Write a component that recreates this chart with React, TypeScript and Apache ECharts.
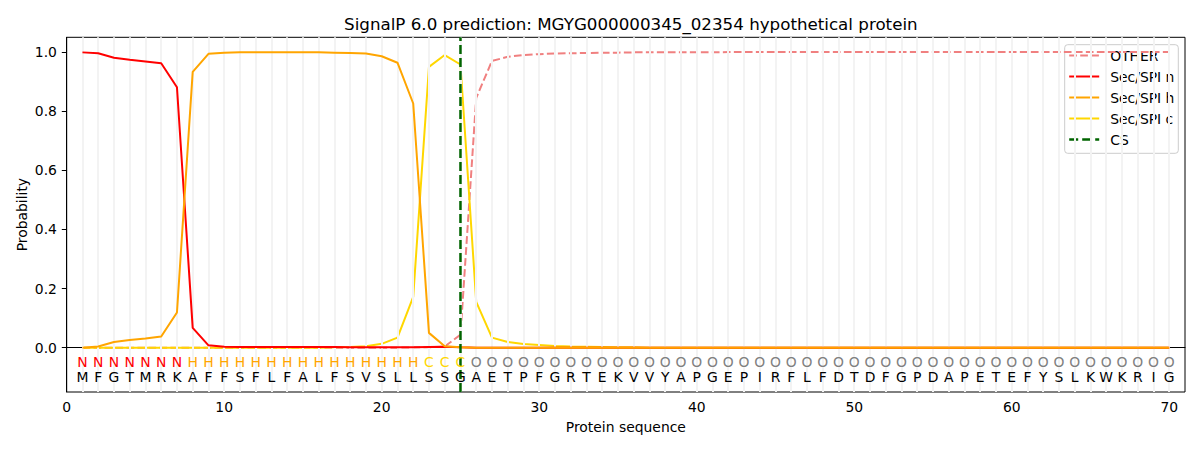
import React, { useEffect, useRef } from "react";
import * as echarts from "echarts";

const sequence = "MFGTMRKAFFSFLFALFSVSLLSSGAETPFGRTEKVVYAPGEPIRFLFDTDFGPDAPETEFYSLKWKRIG".split("");
const regionLabels = "NNNNNNNHHHHHHHHHHHHHHHCCCOOOOOOOOOOOOOOOOOOOOOOOOOOOOOOOOOOOOOOOOOOOOO".split("");
const positions = sequence.map((_, i) => i + 1);

const otherProb = [
  0, 0, 0, 0, 0, 0, 0, 0, 0, 0,
  0, 0, 0, 0, 0, 0, 0, 0, 0, 0,
  0, 0.001, 0.001, 0.004, 0.044, 0.845, 0.970, 0.984, 0.990, 0.993,
  0.995, 0.996, 0.997, 0.998, 0.998, 0.999, 0.999, 0.999, 0.999, 0.999,
  0.999, 1, 1, 1, 1, 1, 1, 1, 1, 1,
  1, 1, 1, 1, 1, 1, 1, 1, 1, 1,
  1, 1, 1, 1, 1, 1, 1, 1, 1, 1,
];
const secN = [
  0.999, 0.996, 0.981, 0.974, 0.968, 0.962, 0.881, 0.067, 0.008, 0.003,
  0.002, 0.002, 0.002, 0.002, 0.002, 0.002, 0.002, 0.001, 0.001, 0.001,
  0.001, 0.001, 0.002, 0.003, 0.001, 0, 0, 0, 0, 0,
  0, 0, 0, 0, 0, 0, 0, 0, 0, 0,
  0, 0, 0, 0, 0, 0, 0, 0, 0, 0,
  0, 0, 0, 0, 0, 0, 0, 0, 0, 0,
  0, 0, 0, 0, 0, 0, 0, 0, 0, 0,
];
const secH = [
  0, 0.004, 0.019, 0.026, 0.031, 0.038, 0.119, 0.933, 0.994, 0.998,
  0.999, 0.999, 0.999, 0.999, 0.999, 0.999, 0.998, 0.997, 0.995, 0.986,
  0.964, 0.826, 0.050, 0.005, 0.001, 0, 0, 0, 0, 0,
  0, 0, 0, 0, 0, 0, 0, 0, 0, 0,
  0, 0, 0, 0, 0, 0, 0, 0, 0, 0,
  0, 0, 0, 0, 0, 0, 0, 0, 0, 0,
  0, 0, 0, 0, 0, 0, 0, 0, 0, 0,
];
const secC = [
  0, 0, 0, 0, 0, 0, 0, 0, 0, 0,
  0, 0, 0, 0, 0, 0, 0.001, 0.002, 0.005, 0.013,
  0.034, 0.172, 0.950, 0.990, 0.958, 0.155, 0.034, 0.019, 0.012, 0.009,
  0.006, 0.004, 0.003, 0.002, 0.001, 0.001, 0, 0, 0, 0,
  0, 0, 0, 0, 0, 0, 0, 0, 0, 0,
  0, 0, 0, 0, 0, 0, 0, 0, 0, 0,
  0, 0, 0, 0, 0, 0, 0, 0, 0, 0,
];
const csPosition = 25;
const xTicks = [0, 10, 20, 30, 40, 50, 60, 70];
const yTicks = [0, 0.2, 0.4, 0.6, 0.8, 1.0];
const legendNames = ["OTHER", "Sec/SPI n", "Sec/SPI h", "Sec/SPI c", "CS"];
const legendColors = ["#f08080", "#ff0000", "#ffa500", "#ffd700", "#006400"];
const legendDashed = [true, false, false, false, true];
const X_MIN = 0;
const X_MAX = 71;
const Y_MIN = -0.15;
const Y_MAX = 1.05;
const REGION_Y = -0.05;
const SEQ_Y = -0.1;

const FONT = "DejaVu Sans";
const regionColor: Record<string, string> = {
  N: "#ff0000",
  H: "#ffa500",
  C: "#ffd700",
  O: "#808080",
};

const GRID_LEFT = 66.7;
const GRID_RIGHT = 15;
const GRID_TOP = 37.3;
const GRID_BOTTOM = 58;

function pairs(vals: number[]) {
  return positions.map((p, i) => [p, vals[i]]);
}

export default function App() {
  const ref = useRef<HTMLDivElement>(null);
  useEffect(() => {
    if (!ref.current) return;
    const chart = echarts.init(ref.current, undefined, { renderer: "svg" });
    const letterData: any[] = [];
    positions.forEach((p, i) => {
      letterData.push([p, REGION_Y, regionLabels[i], regionColor[regionLabels[i]]]);
      letterData.push([p, SEQ_Y, sequence[i], "#000000"]);
    });

    // legend built with graphic elements
    const lgX = 1064.7;
    const lgY = 44.7;
    const lgW = 113.6;
    const lgH = 108.6;
    const legendChildren: any[] = [
      {
        type: "rect",
        shape: { x: lgX, y: lgY, width: lgW, height: lgH, r: 3 },
        style: { fill: "rgba(255,255,255,0.8)", stroke: "#cccccc", lineWidth: 1 },
      },
    ];
    legendNames.forEach((name, i) => {
      const cy = lgY + 10.8 + i * 21;
      legendChildren.push({
        type: "line",
        shape: { x1: lgX + 4.5, y1: cy, x2: lgX + 34.5, y2: cy },
        style: {
          stroke: legendColors[i],
          lineWidth: name === "CS" ? 2.5 : 2,
          lineDash: legendDashed[i] ? (name === "CS" ? [9, 4] : [7.7, 3.3]) : null,
        },
      });
      legendChildren.push({
        type: "text",
        x: lgX + 45.5,
        y: cy,
        style: {
          text: name,
          fill: "#000",
          fontFamily: FONT,
          fontSize: 13.9,
          align: "left",
          verticalAlign: "middle",
        },
      });
    });

    const plotMidY = (GRID_TOP + (450 - GRID_BOTTOM)) / 2;
    const plotMidX = (GRID_LEFT + (1200 - GRID_RIGHT)) / 2;

    const option: any = {
      animation: false,
      backgroundColor: "#ffffff",
      textStyle: { fontFamily: FONT },
      title: {
        text: "SignalP 6.0 prediction: MGYG000000345_02354 hypothetical protein",
        left: plotMidX,
        top: 10,
        textAlign: "center",
        textStyle: { fontFamily: FONT, fontSize: 16.7, fontWeight: "normal", color: "#000" },
      },
      grid: {
        left: GRID_LEFT,
        right: GRID_RIGHT,
        top: GRID_TOP,
        bottom: GRID_BOTTOM,
        show: true,
        borderColor: "#000",
        borderWidth: 1,
        backgroundColor: "transparent",
      },
      graphic: [
        { type: "group", z: 100, children: legendChildren },
        {
          type: "text",
          z: 100,
          x: plotMidX,
          y: 427,
          style: {
            text: "Protein sequence",
            fill: "#000",
            fontFamily: FONT,
            fontSize: 13.9,
            align: "center",
            verticalAlign: "middle",
          },
        },
        {
          type: "text",
          z: 100,
          x: 21.5,
          y: plotMidY,
          rotation: Math.PI / 2,
          style: {
            text: "Probability",
            fill: "#000",
            fontFamily: FONT,
            fontSize: 13.9,
            align: "center",
            verticalAlign: "middle",
          },
        },
      ],
      xAxis: {
        type: "value",
        min: X_MIN,
        max: X_MAX,
        axisLine: { show: true, lineStyle: { color: "#000", width: 1 } },
        axisTick: { show: true, length: 4.9, lineStyle: { color: "#000" }, customValues: xTicks },
        axisLabel: {
          customValues: xTicks,
          margin: 8,
          fontFamily: FONT,
          fontSize: 13.9,
          color: "#000",
        },
        splitLine: { show: false },
      },
      yAxis: {
        type: "value",
        min: Y_MIN,
        max: Y_MAX,
        axisLine: { show: true, lineStyle: { color: "#000", width: 1 } },
        axisTick: { show: true, length: 4.9, lineStyle: { color: "#000" }, customValues: yTicks },
        axisLabel: {
          customValues: yTicks,
          margin: 9.8,
          fontFamily: FONT,
          fontSize: 13.9,
          color: "#000",
          formatter: (v: number) => v.toFixed(1),
        },
        splitLine: { show: false },
      },
      series: [
        {
          name: "grid",
          type: "line",
          data: [],
          z: 0,
          silent: true,
          markLine: {
            silent: true,
            symbol: "none",
            label: { show: false },
            lineStyle: { color: "#f3f3f3", width: 2, type: "solid" },
            data: positions.map((p) => ({ xAxis: p })),
          },
        },
        {
          name: "OTHER",
          type: "line",
          data: pairs(otherProb),
          symbol: "none",
          z: 3,
          lineStyle: { color: legendColors[0], width: 2, type: [7.7, 3.3] },
          itemStyle: { color: legendColors[0] },
        },
        {
          name: "Sec/SPI n",
          type: "line",
          data: pairs(secN),
          symbol: "none",
          z: 5,
          lineStyle: { color: legendColors[1], width: 2 },
          itemStyle: { color: legendColors[1] },
        },
        {
          name: "Sec/SPI h",
          type: "line",
          data: pairs(secH),
          symbol: "none",
          z: 6,
          lineStyle: { color: legendColors[2], width: 2 },
          itemStyle: { color: legendColors[2] },
        },
        {
          name: "Sec/SPI c",
          type: "line",
          data: pairs(secC),
          symbol: "none",
          z: 4,
          lineStyle: { color: legendColors[3], width: 2 },
          itemStyle: { color: legendColors[3] },
        },
        {
          name: "CS",
          type: "line",
          data: [
            [csPosition, Y_MIN],
            [csPosition, Y_MAX],
          ],
          symbol: "none",
          z: 7,
          lineStyle: { color: legendColors[4], width: 2.5, type: [9, 4] },
          itemStyle: { color: legendColors[4] },
        },
        {
          name: "letters",
          type: "custom",
          data: letterData,
          z: 8,
          silent: true,
          renderItem: (params: any, api: any) => {
            const pt = api.coord([api.value(0), api.value(1)]);
            const d = letterData[params.dataIndex];
            return {
              type: "text",
              x: pt[0],
              y: pt[1],
              style: {
                text: d[2],
                fill: d[3],
                fontFamily: FONT,
                fontSize: 13.9,
                align: "center",
                verticalAlign: "middle",
              },
            };
          },
        },
      ],
    };
    chart.setOption(option);
    return () => chart.dispose();
  }, []);
  return (
    <div
      ref={ref}
      style={{ position: "fixed", left: 0, top: 0, width: 1200, height: 450, background: "#fff" }}
    />
  );
}
